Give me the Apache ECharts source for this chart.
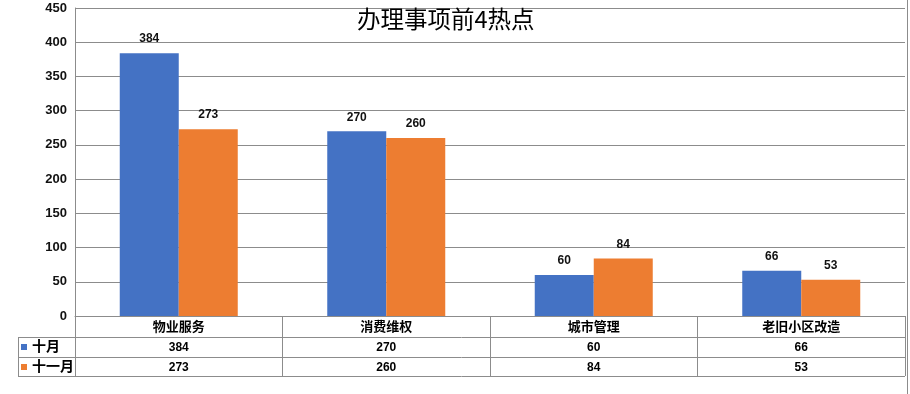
<!DOCTYPE html>
<html>
<head>
<meta charset="utf-8">
<script src="https://cdn.jsdelivr.net/npm/echarts@6/dist/echarts.min.js"></script>
<style>html,body{margin:0;padding:0;background:#fff;}#c{width:910px;height:394px;}</style>
</head>
<body>
<div id="c"></div>
<script>
const titleText = '办理事项前4热点';
const categories = ['物业服务', '消费维权', '城市管理', '老旧小区改造'];
const seriesNames = ['十月', '十一月'];
const octValues = [384, 270, 60, 66];
const novValues = [273, 260, 84, 53];
const yMin = 0, yMax = 450, yStep = 50;

const FONT = '"Liberation Sans", "Noto Sans CJK SC", sans-serif';
const GRID_LEFT = 75, GRID_RIGHT = 5, GRID_TOP = 8, GRID_BOTTOM = 78;
const W = 910, H = 394;
const LINE = '#8c8c8c';
const ROW = 20;

const chart = echarts.init(document.getElementById('c'), null, {renderer: 'canvas'});
const gx1 = W - GRID_RIGHT, gy1 = H - GRID_BOTTOM;
const legendLeft = 18;
function hline(y, x0, x1) {
  return {type: 'line', silent: true, shape: {x1: x0, y1: y + 0.5, x2: x1, y2: y + 0.5}, style: {stroke: LINE, lineWidth: 1}};
}
function vline(x, y0, y1) {
  return {type: 'line', silent: true, shape: {x1: x + 0.5, y1: y0, x2: x + 0.5, y2: y1}, style: {stroke: LINE, lineWidth: 1}};
}
chart.setOption({
  animation: false,
  color: ['#4472C4', '#ED7D31'],
  title: {
    text: titleText, left: 357, top: 7, padding: 0,
    textStyle: {fontFamily: '"Noto Sans CJK SC"', fontSize: 23.5, fontWeight: 'normal', color: '#000'}
  },
  legend: {
    data: seriesNames, orient: 'vertical', left: 21, top: gy1 + ROW + 1, padding: 0,
    icon: 'rect', itemWidth: 6, itemHeight: 6, itemGap: 0,
    textStyle: {fontFamily: FONT, fontSize: 14, fontWeight: 'bold', color: '#000', lineHeight: ROW}
  },
  grid: {left: GRID_LEFT, right: GRID_RIGHT, top: GRID_TOP, bottom: GRID_BOTTOM, containLabel: false},
  xAxis: {
    type: 'category', data: categories,
    axisLine: {show: true, lineStyle: {color: LINE}},
    axisTick: {show: true, length: ROW * 3, interval: 0, lineStyle: {color: LINE}},
    axisLabel: {
      interval: 0, margin: 1,
      formatter: function (v, i) {
        return '{c|' + v + '}\n{v|' + octValues[i] + '}\n{v|' + novValues[i] + '}';
      },
      rich: {
        c: {fontFamily: FONT, fontSize: 13, fontWeight: 'bold', color: '#000', lineHeight: ROW + 1},
        v: {fontFamily: FONT, fontSize: 12, fontWeight: 'bold', color: '#000', lineHeight: ROW}
      }
    }
  },
  yAxis: {
    type: 'value', min: yMin, max: yMax, interval: yStep,
    axisLine: {show: true, lineStyle: {color: LINE}},
    axisTick: {show: false},
    splitLine: {lineStyle: {color: LINE}},
    axisLabel: {margin: 8, fontFamily: FONT, fontSize: 13, fontWeight: 'bold', color: '#111'}
  },
  series: [
    {name: seriesNames[0], type: 'bar', data: octValues, barWidth: 59, barGap: '0%',
     label: {show: true, position: 'top', distance: 8, fontFamily: FONT, fontSize: 12, fontWeight: 'bold', color: '#111'}},
    {name: seriesNames[1], type: 'bar', data: novValues, barWidth: 59, barGap: '0%',
     label: {show: true, position: 'top', distance: 8, fontFamily: FONT, fontSize: 12, fontWeight: 'bold', color: '#111'}}
  ],
  graphic: [
    hline(gy1 + ROW + 1, legendLeft, gx1),
    hline(gy1 + ROW * 2 + 1, legendLeft, gx1),
    hline(gy1 + ROW * 3, legendLeft, gx1),
    vline(legendLeft, gy1 + ROW + 1, gy1 + ROW * 3 + 1),
    vline(907, 0, H)
  ]
});
</script>
</body>
</html>
